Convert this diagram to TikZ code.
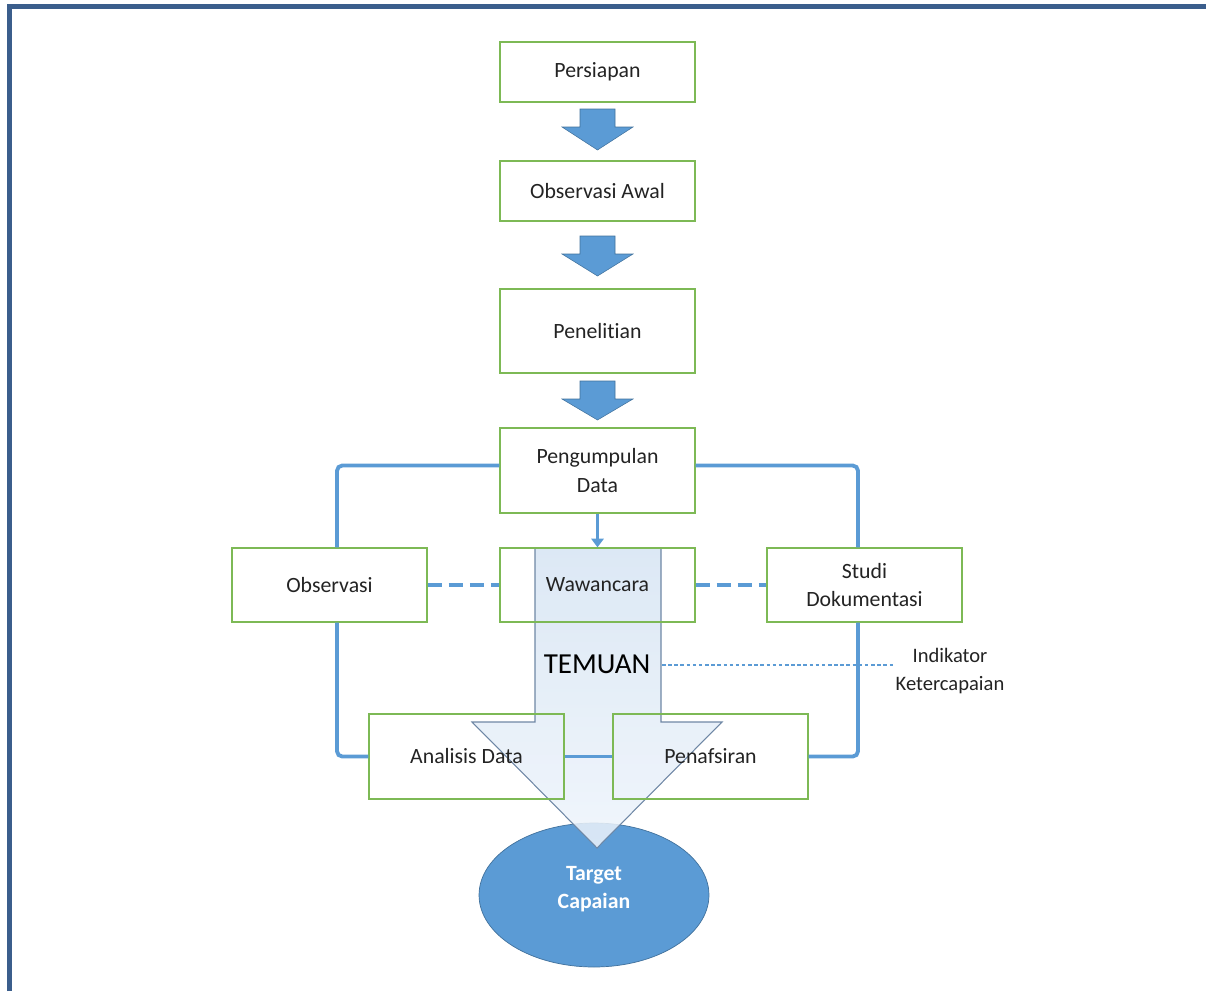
\documentclass[tikz,border=0pt]{standalone}
\usepackage{fontspec}
\setmainfont{Carlito}[Ligatures=NoCommon]
\usetikzlibrary{arrows.meta,positioning,shapes.geometric}

\definecolor{biruPanah}{RGB}{91,155,213}
\definecolor{biruTua}{RGB}{65,113,156}
\definecolor{hijauKotak}{RGB}{125,185,85}
\definecolor{biruBingkai}{RGB}{59,94,140}
\definecolor{teks}{RGB}{35,35,35}
\definecolor{temuanAtas}{RGB}{214,228,243}
\definecolor{temuanBawah}{RGB}{238,244,251}
\definecolor{temuanGaris}{RGB}{110,135,165}

\tikzset{
  kotak/.style={draw=hijauKotak, line width=0.7pt, minimum width=3.9cm, minimum height=1.2cm,
    align=center, text=teks, font=\fontsize{12.4}{16}\selectfont},
  garis/.style={draw=biruPanah, line width=2.2pt},
  panahblok/.style={fill=biruPanah, draw=biruTua, line width=0.3pt},
}

\begin{document}
\begin{tikzpicture}[x=0.02cm, y=-0.02cm]
            \useasboundingbox (0,0) rectangle (1206,991);

            % Le cadre (haut et gauche)
            \draw[biruBingkai, line width=0.1cm] (9.5,991) -- (9.5,6.5) -- (1206,6.5);

            % La cible (ellipse du bas)
            \node[ellipse, draw=biruTua, fill=biruPanah, minimum width=4.6cm, minimum height=2.88cm,
              label={[align=center, text=white, font=\bfseries\fontsize{12.4}{16}\selectfont, yshift=0.12cm]center:Target\\Capaian}] (target) at (594,895) {};

            % La grande flèche TEMUAN (semi-transparente)
            \draw[draw=temuanGaris, line width=0.6pt, top color=temuanAtas,
              bottom color=temuanBawah, fill opacity=0.85]
              (535,548) -- (661,548) -- (661,722) -- (722,722) -- (597,848)
              -- (472,722) -- (535,722) -- cycle;
            \node[text=black, font=\fontsize{16.5}{18}\selectfont] (temuan) at (597,664) {TEMUAN};

            % Les étapes (colonne du milieu)
            \node[kotak] (persiapan) at (597.5,72) {Persiapan};
            \node[kotak] (awal) at (597.5,191) {Observasi Awal};
            \node[kotak, minimum height=1.68cm] (penelitian) at (597.5,331) {Penelitian};
            \node[kotak, minimum height=1.7cm] (pengumpulan) at (597.5,470.5) {Pengumpulan\\Data};

            % Les trois méthodes
            \node[kotak, minimum height=1.48cm] (observasi) at (329.5,585) {Observasi};
            \node[kotak, minimum height=1.48cm] (wawancara) at (597.5,585) {Wawancara};
            \node[kotak, minimum height=1.48cm] (studi) at (864.5,585) {Studi\\Dokumentasi};

            % Analyse et interprétation
            \node[kotak, minimum height=1.7cm] (analisis) at (466.5,756.5) {Analisis Data};
            \node[kotak, minimum height=1.7cm] (penafsiran) at (710.5,756.5) {Penafsiran};

            % Légende à droite
            \node[align=center, text=teks, font=\fontsize{11.7}{16}\selectfont] (indikator) at (950,671) {Indikator\\Ketercapaian};
            \coordinate (temuan kanan) at (662,665);
            \coordinate (indikator ujung) at (895,665);

            % Flèches pleines entre les étapes
            \foreach \ya/\yb in {109/150, 236/276, 381/420}
              \draw[panahblok] (580,\ya) -- (615,\ya) -- (615,\ya+18) -- (633,\ya+18)
                -- (597.5,\yb) -- (562,\ya+18) -- (580,\ya+18) -- cycle;

            % Les liaisons
            \draw[garis, rounded corners=3] ([yshift=0.1cm]pengumpulan.west) -| ([xshift=0.15cm]observasi.north);
            \draw[garis, rounded corners=3] ([yshift=0.1cm]pengumpulan.east) -| ([xshift=-0.13cm]studi.north);
            \draw[garis, rounded corners=3] ([xshift=0.15cm]observasi.south) |- (analisis.west);
            \draw[garis, rounded corners=3] ([xshift=-0.13cm]studi.south) |- (penafsiran.east);
            \draw[garis] (analisis.east) -- (penafsiran.west);
            \draw[garis, line width=1.6pt, -{Triangle[length=5pt, width=7pt]}] (pengumpulan.south) -- (wawancara.north);
            \draw[garis, dash pattern=on 8pt off 4pt] (observasi.east) -- (wawancara.west);
            \draw[garis, dash pattern=on 8pt off 4pt] (wawancara.east) -- (studi.west);
            \draw[biruPanah, line width=0.7pt, dash pattern=on 2pt off 1.5pt] (temuan kanan) -- (indikator ujung);
        \end{tikzpicture}
\end{document}
